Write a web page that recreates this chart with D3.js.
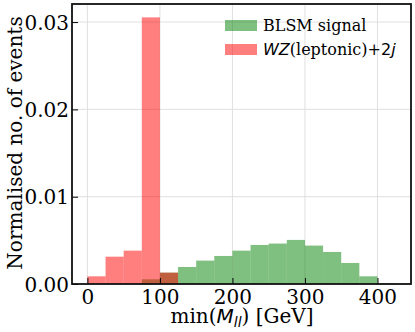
<!DOCTYPE html>
<html>
<head>
<meta charset="utf-8">
<script src="https://cdn.jsdelivr.net/npm/d3@7.9.0/dist/d3.min.js"></script>
<style>
  body { margin: 0; background: #fff; }
</style>
</head>
<body>
<svg id="chart" width="415" height="332"></svg>
<script>
// histogram bins, width 25 GeV
const binStarts = [0, 25, 50, 75, 100, 125, 150, 175, 200, 225, 250, 275, 300, 325, 350, 375, 400];
const binWidth = 25;
const signal = [0, 0, 0, 0.00054, 0.0013, 0.00195, 0.00268, 0.00321, 0.00382, 0.00447, 0.00463, 0.00505, 0.0044, 0.00367, 0.00241, 0.00088, 0.00006];
const background = [0.00088, 0.00313, 0.00382, 0.03054, 0.0013, 0, 0, 0, 0, 0, 0, 0, 0, 0, 0, 0, 0];
const xTicks = [0, 100, 200, 300, 400];
const yTicks = [0, 0.01, 0.02, 0.03];

const SERIF = '"DejaVu Serif", serif';
const SANS = '"DejaVu Sans", sans-serif';

const margin = { left: 72, right: 4, top: 4, bottom: 48 };
const width = 415, height = 332;
const svg = d3.select('#chart');

const x = d3.scaleLinear().domain([-21.25, 446.25]).range([margin.left, width - margin.right]);
const y = d3.scaleLinear().domain([0, 0.03207]).range([height - margin.bottom, margin.top]);

// grid
let grid = svg.append('g');
xTicks.forEach((t) => {
  grid.append('line')
    .attr('x1', x(t)).attr('x2', x(t))
    .attr('y1', y.range()[0]).attr('y2', y.range()[1])
    .attr('stroke', '#dcdcdc').attr('stroke-width', 0.9);
});
yTicks.forEach((t) => {
  grid.append('line')
    .attr('x1', x.range()[0]).attr('x2', x.range()[1])
    .attr('y1', y(t)).attr('y2', y(t))
    .attr('stroke', '#dcdcdc').attr('stroke-width', 0.9);
});

function drawHist(values, color) {
  svg.append('g').selectAll('rect')
    .data(values.map((v, i) => ({ x0: binStarts[i], v: v })).filter((d) => d.v > 0))
    .join('rect')
    .attr('x', (d) => x(d.x0))
    .attr('width', (d) => x(d.x0 + binWidth) - x(d.x0))
    .attr('y', (d) => y(d.v))
    .attr('height', (d) => y(0) - y(d.v))
    .attr('fill', color)
    .attr('fill-opacity', 0.5);
}
drawHist(signal, '#008000');
drawHist(background, '#ff0000');

// axes with inward ticks
const xAxis = d3.axisBottom(x).tickValues(xTicks).tickSizeInner(-6).tickSizeOuter(0).tickPadding(6).tickFormat(d3.format('d'));
const yAxis = d3.axisLeft(y).tickValues(yTicks).tickSizeInner(-6).tickSizeOuter(0).tickPadding(3).tickFormat(d3.format('.2f'));

const gx = svg.append('g').attr('transform', `translate(0,${y(0)})`).call(xAxis);
const gy = svg.append('g').attr('transform', `translate(${margin.left},0)`).call(yAxis);
[gx, gy].forEach((g) => {
  g.select('.domain').remove();
  g.selectAll('.tick line').attr('stroke', '#000').attr('stroke-width', 1);
  g.selectAll('.tick text').attr('font-family', SERIF).attr('font-size', 20).attr('fill', '#000');
});
gy.selectAll('.tick text').attr('dy', '0.36em');

// frame
svg.append('rect')
  .attr('x', margin.left).attr('y', margin.top)
  .attr('width', width - margin.left - margin.right)
  .attr('height', height - margin.top - margin.bottom)
  .attr('fill', 'none').attr('stroke', '#111').attr('stroke-width', 1.8);

// axis labels
let xl = svg.append('text')
  .attr('x', 242).attr('y', 323)
  .attr('text-anchor', 'middle').attr('font-size', 20).attr('font-family', SERIF);
xl.append('tspan').text('min(');
xl.append('tspan').attr('font-family', SANS).attr('font-style', 'italic').text('M');
xl.append('tspan').attr('font-family', SANS).attr('font-style', 'italic').attr('font-size', 14).attr('dy', 4).text('ll');
xl.append('tspan').attr('dy', -4).text(') [GeV]');

svg.append('text')
  .attr('transform', 'translate(22,143) rotate(-90)')
  .attr('text-anchor', 'middle').attr('font-size', 20).attr('font-family', SERIF)
  .text('Normalised no. of events');

// legend
const legend = [
  { color: '#008000', y: 20 },
  { color: '#ff0000', y: 44 }
];
legend.forEach((d) => {
  svg.append('rect')
    .attr('x', 225).attr('y', d.y).attr('width', 32).attr('height', 11)
    .attr('fill', d.color).attr('fill-opacity', 0.5);
});
svg.append('text').attr('x', 263).attr('y', 31).attr('font-size', 16).attr('font-family', SERIF).text('BLSM signal');
let l2 = svg.append('text').attr('x', 263).attr('y', 55).attr('font-size', 16).attr('font-family', SERIF);
l2.append('tspan').attr('font-family', SANS).attr('font-style', 'italic').text('WZ');
l2.append('tspan').text('(leptonic)+');
l2.append('tspan').attr('font-family', SANS).text('2');
l2.append('tspan').attr('font-family', SANS).attr('font-style', 'italic').text('j');
</script>
</body>
</html>
